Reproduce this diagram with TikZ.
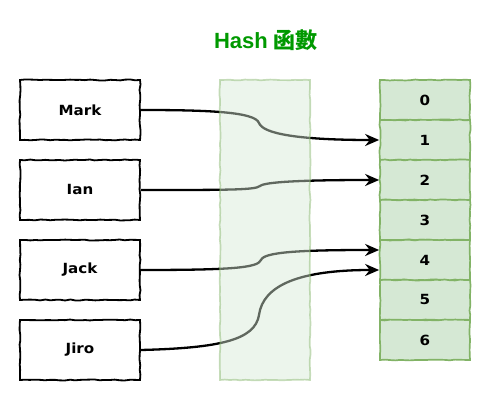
\documentclass[tikz,border=0pt]{standalone}
\usepackage{fontspec}
\usetikzlibrary{arrows.meta,decorations.pathmorphing,calc}
\newfontfamily\labelfont{DejaVu Sans}[FakeStretch=1.08]
\newfontfamily\titlefont{Liberation Sans}
\newfontfamily\cjkfont{Noto Sans CJK TC}
\definecolor{hgreen}{HTML}{009900}
\definecolor{cellfill}{HTML}{D5E8D4}
\definecolor{cellline}{HTML}{82B366}
\begin{document}
\pgfmathsetseed{7}
\begin{tikzpicture}[x=1pt,y=-1pt,
  sketch/.style={decorate,decoration={random steps,segment length=5pt,amplitude=0.5pt}},
  namebox/.style={draw=black,line width=1.8pt,fill=white,minimum width=120pt,minimum height=60pt,inner sep=0pt,
    font=\labelfont\bfseries\fontsize{14}{16}\selectfont,sketch},
  cell/.style={draw=cellline,line width=1.7pt,fill=cellfill,minimum width=90pt,minimum height=40pt,inner sep=0pt,
    font=\labelfont\bfseries\fontsize{14}{16}\selectfont,sketch},
  hashbox/.style={draw=cellline,line width=1.7pt,fill=cellfill,fill opacity=0.45,draw opacity=0.45,
    minimum width=90pt,minimum height=300pt,inner sep=0pt,sketch},
  link/.style={draw=black,line width=2.3pt,-{Stealth[length=14pt,width=12pt]}}]
\useasboundingbox (0,0) rectangle (491,411);
\node[text=hgreen,font=\fontsize{22}{26}\selectfont\bfseries] (title) at (266,40) {\titlefont Hash \cjkfont 函數};
\node[namebox] (mark) at (80,110) {Mark};
\node[namebox] (ian) at (80,190) {Ian};
\node[namebox] (jack) at (80,270) {Jack};
\node[namebox] (jiro) at (80,350) {Jiro};
\foreach \i in {0,...,6} {
  \node[cell] (c\i) at (425,100+40*\i) {\i};
}
\draw[link] (mark.east) .. controls (210,110) and (255,112) .. (259,123)
  .. controls (263,134) and (300,140) .. (c1.west);
\draw[link] (ian.east) .. controls (230,190) and (255,190) .. (260,186)
  .. controls (265,182) and (300,180) .. (c2.west);
\draw[link] (jack.east) .. controls (230,270) and (258,268) .. (261,260)
  .. controls (264,252) and (300,250) .. ($(c4.west)+(0,-10)$);
\draw[link] (jiro.east) .. controls (220,348) and (255,340) .. (259,315)
  .. controls (263,285) and (300,270) .. ($(c4.west)+(0,10)$);
\node[hashbox] (hash) at (265,230) {};
\end{tikzpicture}
\end{document}
